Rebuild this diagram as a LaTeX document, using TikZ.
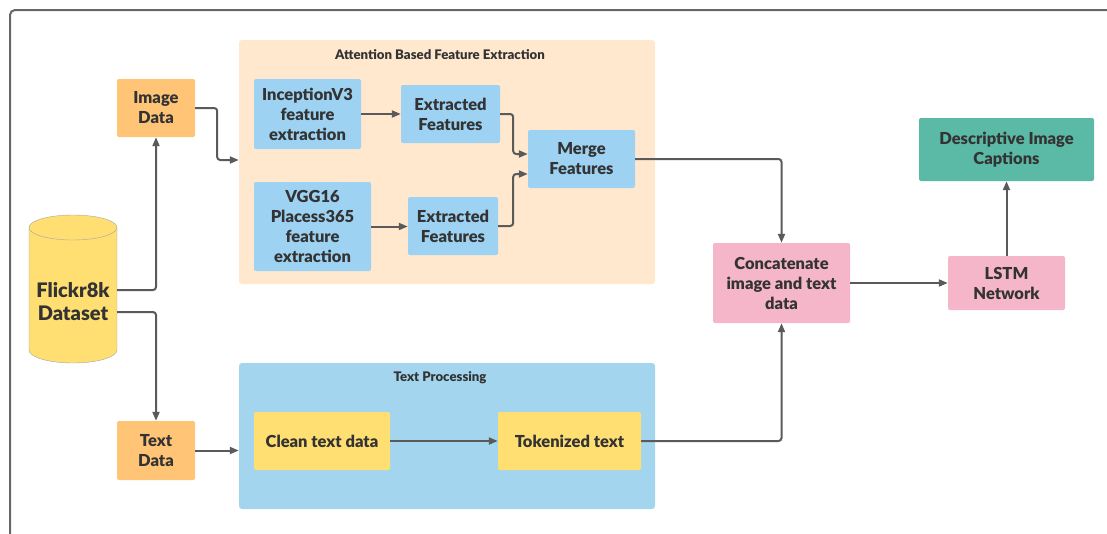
\documentclass[tikz,border=0pt]{standalone}
\usepackage{fontspec}
\setmainfont{Lato}[BoldFont={Lato Black}]
\usetikzlibrary{arrows.meta}

\definecolor{ink}{HTML}{333333}
\definecolor{wire}{HTML}{5A5A5A}
\definecolor{frame}{HTML}{666666}
\definecolor{orangebox}{HTML}{FFC476}
\definecolor{peach}{HTML}{FFE8CE}
\definecolor{bluebox}{HTML}{9DD2F3}
\definecolor{bluegroup}{HTML}{A3D5EE}
\definecolor{yellowbox}{HTML}{FFDF71}
\definecolor{pinkbox}{HTML}{F4B6C8}
\definecolor{tealbox}{HTML}{5BBAA6}

\begin{document}
\begin{tikzpicture}[x=1pt,y=-1pt,
    box/.style={rounded corners=2pt,align=center,inner sep=0pt,text=ink,
      font=\fontsize{16.5}{20}\selectfont\bfseries},
    group/.style={rounded corners=3pt,inner sep=0pt},
    grouptitle/.style={text=ink,font=\fontsize{13.2}{15}\selectfont\bfseries},
    flow/.style={draw=wire,line width=2pt,rounded corners=3pt,
      -{Triangle[length=9pt,width=7pt]}}]
  \useasboundingbox (0,0) rectangle (1107,533);

  % outer frame
  \draw[frame,line width=2pt,rounded corners=5pt] (10,540) -- (10,10) -- (1115,10);

  % groups
  \node[group,fill=peach,minimum width=416pt,minimum height=244pt] (att) at (447,162) {};
  \node[grouptitle] (attT) at (440,55) {Attention Based Feature Extraction};
  \node[group,fill=bluegroup,minimum width=416pt,minimum height=146pt] (tp) at (447,436) {};
  \node[grouptitle] (tpT) at (440,378) {Text Processing};

  % dataset cylinder
  \draw[draw=gray!70,fill=yellowbox] (29,227.5) -- (29,350)
    arc[start angle=180,end angle=0,x radius=44,y radius=13] -- (117,227.5)
    arc[start angle=0,end angle=-180,x radius=44,y radius=12.5] -- cycle;
  \draw[draw=gray!70] (29,227.5) arc[start angle=180,end angle=0,x radius=44,y radius=12.5];
  \node[box,font=\fontsize{20}{23}\selectfont\bfseries,minimum width=88pt] (ds) at (73,302)
    {Flickr8k\\Dataset};

  % inputs
  \node[box,fill=orangebox,minimum width=78pt,minimum height=58pt] (img) at (156,108) {Image\\Data};
  \node[box,fill=orangebox,minimum width=78pt,minimum height=59pt] (txt) at (156,450.5) {Text\\Data};

  % feature extraction
  \node[box,fill=bluebox,minimum width=107pt,minimum height=70pt] (inc) at (307.5,114)
    {InceptionV3\\feature\\extraction};
  \node[box,fill=bluebox,minimum width=117pt,minimum height=89pt] (vgg) at (312.5,226.5)
    {VGG16\\Placess365\\feature\\extraction};
  \node[box,fill=bluebox,minimum width=99pt,minimum height=58pt] (ef1) at (450.5,114)
    {Extracted\\Features};
  \node[box,fill=bluebox,minimum width=90pt,minimum height=58pt] (ef2) at (453,226)
    {Extracted\\Features};
  \node[box,fill=bluebox,minimum width=107pt,minimum height=58pt] (mrg) at (581.5,159)
    {Merge\\Features};

  % text processing
  \node[box,fill=yellowbox,minimum width=136pt,minimum height=58pt] (cln) at (322,441)
    {Clean text data};
  \node[box,fill=yellowbox,minimum width=143pt,minimum height=58pt] (tok) at (569.5,441)
    {Tokenized text};

  % model
  \node[box,fill=pinkbox,minimum width=137pt,minimum height=80pt] (cat) at (781.5,283)
    {Concatenate\\image and text\\data};
  \node[box,fill=pinkbox,minimum width=117pt,minimum height=54pt] (lstm) at (1006.5,283)
    {LSTM\\Network};
  \node[box,fill=tealbox,minimum width=175pt,minimum height=63pt] (cap) at (1006.5,149.5)
    {Descriptive Image\\Captions};

  % connectors
  \draw[flow] ([yshift=12pt]ds.east) -| (img.south);
  \draw[flow] ([yshift=-10pt]ds.east) -| (txt.north);
  \draw[flow] (img.east) -- ++(22,0) |- ([yshift=2pt]att.west);
  \draw[flow] (txt.east) -- (txt.east -| tp.west);
  \draw[flow] (inc.east) -- (ef1.west);
  \draw[flow] (vgg.east) -- (vgg.east -| ef2.west);
  \draw[flow] (ef1.east) -- ++(13,0) |- ([yshift=5pt]mrg.west);
  \draw[flow] (ef2.east) -- ++(15,0) |- ([yshift=-15pt]mrg.west);
  \draw[flow] (mrg.east) -| (cat.north);
  \draw[flow] (cln.east) -- (tok.west);
  \draw[flow] (tok.east) -| (cat.south);
  \draw[flow] (cat.east) -- (lstm.west);
  \draw[flow] (lstm.north) -- (cap.south);
\end{tikzpicture}
\end{document}
